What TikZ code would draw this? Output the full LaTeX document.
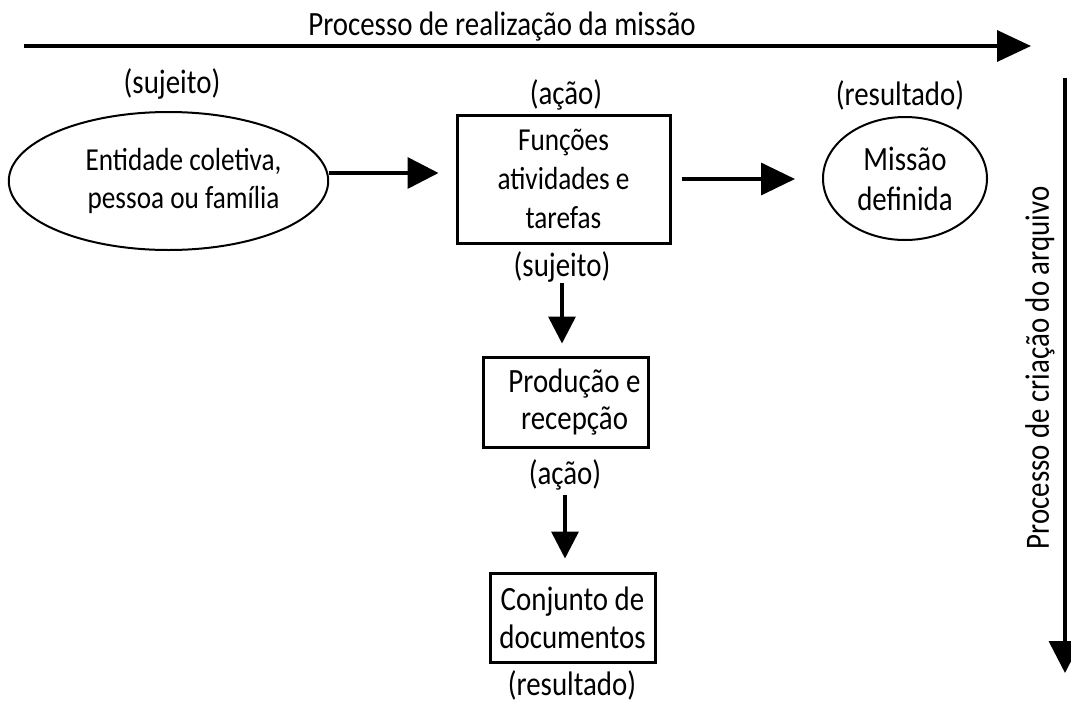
\documentclass[tikz,border=0pt]{standalone}
\usepackage{fontspec}
\setmainfont[FakeStretch=0.85]{Carlito}
\usetikzlibrary{arrows.meta,positioning,calc,shapes.geometric}
\tikzset{
  arr/.style={line width=1.8pt, -{Triangle[length=13.5pt,width=13.5pt]}},
  boxnode/.style={draw, line width=1.5pt, align=center, inner sep=0pt},
  ovalnode/.style={draw, ellipse, line width=1pt, align=center, inner sep=0pt},
  txt/.style={font=\fontsize{17}{19}\selectfont, align=center, inner sep=0pt},
}

\begin{document}
\begin{tikzpicture}[x=0.5pt, y=-0.5pt, every node/.style={txt}]
  \useasboundingbox (0,0) rectangle (1071,702);

  \coordinate (misL) at (24,46);
  \coordinate (misR) at (1031,46);
  \draw[arr, -{Triangle[length=17pt,width=15.5pt]}] (misL) -- (misR);
  \node[anchor=base] (tit) at (502,35) {Processo de realização da missão};

  \node[ovalnode, minimum width=156.5pt, minimum height=69pt, font=\fontsize{16}{19}\selectfont] (ent) at (168.5,181) {\hspace*{15pt}Entidade coletiva,\\\hspace*{15pt}pessoa ou família};
  \node[boxnode, minimum width=106.5pt, minimum height=64pt, font=\fontsize{16}{19.5}\selectfont] (fun) at (563.5,179) {Funções\\atividades e\\tarefas};
  \node[ovalnode, minimum width=82pt, minimum height=61.5pt, font=\fontsize{17}{20}\selectfont] (mis) at (905,178.5) {Missão\\definida};
  \node[boxnode, minimum width=82.5pt, minimum height=45pt, font=\fontsize{17}{18.5}\selectfont] (prod) at (565.5,402) {\hspace*{9pt}Produção e\\\hspace*{9pt}recepção};
  \node[boxnode, minimum width=82.5pt, minimum height=44.5pt] (doc) at (572.5,617.5) {Conjunto de\\documentos};

  \node (suj1) at (172,84) {(sujeito)};
  \node (acao1) at (566,95) {(ação)};
  \node (res1) at (900,95) {(resultado)};
  \node (suj2) at (562,267) {(sujeito)};
  \node (acao2) at (565,475) {(ação)};
  \node (res2) at (572,685) {(resultado)};

  \draw[arr, -{Triangle[length=15.5pt,width=15.5pt]}, shorten >=8.5pt] ([yshift=4pt]ent.east) -- ([yshift=4pt]ent.east -| fun.west);
  \draw[arr, -{Triangle[length=17pt,width=16pt]}, shorten <=5pt, shorten >=13.5pt] (fun.east) -- (fun.east -| mis.west);
  \draw[arr, shorten >=6pt] (suj2.south) -- (suj2.south |- prod.north);
  \draw[arr, shorten <=2pt, shorten >=6.5pt] (acao2.south) -- (acao2.south |- doc.north);

  \coordinate (arqT) at (1065,78);
  \coordinate (arqB) at (1065,673);
  \draw[arr, -{Triangle[length=16pt,width=16pt]}] (arqT) -- (arqB);
  \node[rotate=90] (arq) at (1040,368) {Processo de criação do arquivo};
\end{tikzpicture}
\end{document}
